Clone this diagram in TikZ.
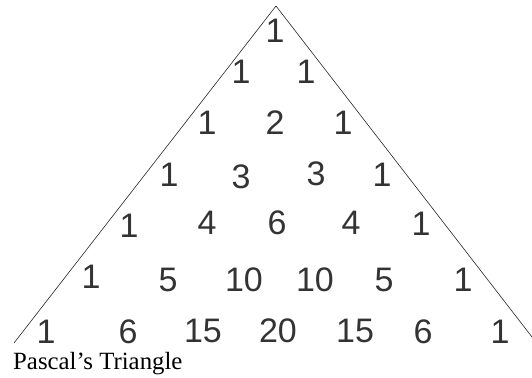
\documentclass[tikz,border=0pt]{standalone}
\usepackage{fontspec}
\setmainfont{Liberation Serif}
\newfontfamily\numfont{Liberation Sans}
\usepackage{xcolor}
\definecolor{numgray}{HTML}{333333}

\begin{document}
\begin{tikzpicture}[
    x=1pt, y=-1pt,
    num/.style={inner sep=0pt, text=numgray, font=\numfont\fontsize{34}{34}\selectfont},
    side/.style={draw=black!85, line width=0.6pt},
    caption/.style={inner sep=0pt, anchor=base west, font=\fontsize{24.8}{25}\selectfont}
]
\useasboundingbox (0,0) rectangle (532,377);

% outline of the triangle
\coordinate (apex) at (276,6);
\coordinate (baseL) at (14,343);
\coordinate (baseR) at (532,337);
\draw[side] (baseL) -- (apex) -- (baseR);

% row 0
\node[num] (r0c0) at (275,31) {1};
% row 1
\node[num] (r1c0) at (241,72) {1};
\node[num] (r1c1) at (306,72) {1};
% row 2
\node[num] (r2c0) at (207,123) {1};
\node[num] (r2c1) at (275,123) {2};
\node[num] (r2c2) at (343,123) {1};
% row 3
\node[num] (r3c0) at (169,175) {1};
\node[num] (r3c1) at (241,177) {3};
\node[num] (r3c2) at (316,174) {3};
\node[num] (r3c3) at (382,175) {1};
% row 4
\node[num] (r4c0) at (129,226) {1};
\node[num] (r4c1) at (207,223) {4};
\node[num] (r4c2) at (277,223) {6};
\node[num] (r4c3) at (351,223) {4};
\node[num] (r4c4) at (421,224) {1};
% row 5
\node[num] (r5c0) at (91,277) {1};
\node[num] (r5c1) at (168,280) {5};
\node[num] (r5c2) at (244,280) {10};
\node[num] (r5c3) at (315,280) {10};
\node[num] (r5c4) at (384,280) {5};
\node[num] (r5c5) at (463,280) {1};
% row 6
\node[num] (r6c0) at (46,332) {1};
\node[num] (r6c1) at (128,332) {6};
\node[num] (r6c2) at (203,331) {15};
\node[num] (r6c3) at (278,331) {20};
\node[num] (r6c4) at (355,331) {15};
\node[num] (r6c5) at (423,332) {6};
\node[num] (r6c6) at (500,332) {1};

\node[caption] (title) at (13,369) {Pascal’s Triangle};

\end{tikzpicture}
\end{document}
